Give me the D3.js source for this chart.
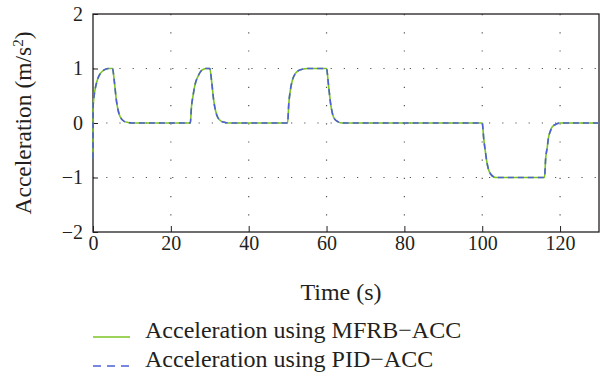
<!DOCTYPE html>
<html>
<head>
<meta charset="utf-8">
<script src="https://cdn.jsdelivr.net/npm/d3@7/dist/d3.min.js"></script>
<style>
  html, body { margin: 0; padding: 0; background: #fff; }
  svg { display: block; }
  text { font-family: "Liberation Serif", "DejaVu Serif", serif; fill: #231f20; }
</style>
</head>
<body>
<svg id="chart" width="600" height="381"></svg>
<script>
// ---- data ----
const time = [0, 0.02, 0.5, 1, 1.5, 2, 3, 4, 5, 5.5, 6, 6.5, 7, 8, 9, 10,
  25, 25.3, 25.7, 26.2, 27, 27.5, 28.5, 29, 30, 30.5, 31, 31.5, 32, 33, 34, 35,
  50, 50.3, 50.7, 51.2, 52, 53, 54, 55, 60, 60.5, 61, 61.5, 62, 63, 64,
  100, 100.4, 100.8, 101.2, 101.6, 102.2, 103, 103.5, 116, 116.3, 116.7, 117, 117.5, 118, 119, 120, 130];
const mfrbAcc = [-0.65, 0.3, 0.6, 0.76, 0.86, 0.92, 0.98, 1, 1, 0.75, 0.42, 0.22, 0.11, 0.03, 0.01, 0,
  0, 0.3, 0.5, 0.7, 0.86, 0.93, 0.99, 1, 1, 0.75, 0.42, 0.22, 0.11, 0.03, 0.01, 0,
  0, 0.35, 0.6, 0.78, 0.91, 0.97, 0.99, 1, 1, 0.7, 0.38, 0.18, 0.08, 0.02, 0,
  0, -0.3, -0.52, -0.72, -0.85, -0.94, -0.99, -1, -1, -0.65, -0.45, -0.28, -0.15, -0.07, -0.02, 0, 0];
const pidAcc = [-0.65, 0.3, 0.6, 0.76, 0.86, 0.92, 0.98, 1, 1, 0.75, 0.42, 0.22, 0.11, 0.03, 0.01, 0,
  0, 0.3, 0.5, 0.7, 0.86, 0.93, 0.99, 1, 1, 0.75, 0.42, 0.22, 0.11, 0.03, 0.01, 0,
  0, 0.35, 0.6, 0.78, 0.91, 0.97, 0.99, 1, 1, 0.7, 0.38, 0.18, 0.08, 0.02, 0,
  0, -0.3, -0.52, -0.72, -0.85, -0.94, -0.99, -1, -1, -0.65, -0.45, -0.28, -0.15, -0.07, -0.02, 0, 0];
const xTicks = [0, 20, 40, 60, 80, 100, 120];
const yTicks = [-2, -1, 0, 1, 2];
const seriesNames = ["Acceleration using MFRB\u2212ACC", "Acceleration using PID\u2212ACC"];

// ---- layout ----
const svg = d3.select("#chart");
const L = 93, T = 14, R = 599, B = 232;
const x = d3.scaleLinear().domain([0, 130]).range([L, R]);
const y = d3.scaleLinear().domain([-2, 2]).range([B, T]);
const ink = "#231f20";
const green = "#7cc520";
const blue = "#4d5fd2";

// grid
const grid = svg.append("g");
grid.selectAll(".gx").data(xTicks.filter(d => d > 0)).enter().append("line")
  .attr("x1", d => x(d)).attr("x2", d => x(d)).attr("y1", T).attr("y2", B)
  .attr("stroke", "#555").attr("stroke-width", 1.2).attr("stroke-dasharray", "1.2,17");
grid.selectAll(".gy").data(yTicks.filter(d => d > -2 && d < 2)).enter().append("line")
  .attr("x1", L).attr("x2", R).attr("y1", d => y(d)).attr("y2", d => y(d))
  .attr("stroke", "#555").attr("stroke-width", 1.2).attr("stroke-dasharray", "1.2,12");

// axes
const xAxis = d3.axisBottom(x).tickValues(xTicks).tickSize(-6).tickPadding(4);
const gx = svg.append("g").attr("transform", `translate(0,${B})`).call(xAxis);
gx.select(".domain").remove();
gx.selectAll("line").attr("stroke", ink);
gx.selectAll("text").style("font-size", "20px").attr("fill", ink);

const yAxis = d3.axisLeft(y).tickValues(yTicks).tickSize(-5).tickPadding(10)
  .tickFormat(d => d < 0 ? "\u2212" + Math.abs(d) : d);
const gy = svg.append("g").attr("transform", `translate(${L},0)`).call(yAxis);
gy.select(".domain").remove();
gy.selectAll("line").attr("stroke", ink);
gy.selectAll("text").style("font-size", "20px").attr("fill", ink);

// frame
svg.append("rect").attr("x", L).attr("y", T).attr("width", R - L).attr("height", B - T)
  .attr("fill", "none").attr("stroke", ink).attr("stroke-width", 1.3);

// lines
const pts = (vals) => time.map((t, i) => [t, vals[i]]);
const line = d3.line().x(d => x(d[0])).y(d => y(d[1])).curve(d3.curveMonotoneX);
svg.append("path").attr("d", line(pts(mfrbAcc))).attr("fill", "none")
  .attr("stroke", green).attr("stroke-width", 1.6);
svg.append("path").attr("d", line(pts(pidAcc))).attr("fill", "none")
  .attr("stroke", blue).attr("stroke-width", 1.6).attr("stroke-dasharray", "6,4");

// axis titles
svg.append("text").attr("x", 341).attr("y", 300).attr("text-anchor", "middle")
  .style("font-size", "24px").text("Time (s)");
const yl = svg.append("text").attr("transform", `translate(31,${(T + B) / 2}) rotate(-90)`)
  .attr("text-anchor", "middle").style("font-size", "23.5px");
yl.append("tspan").text("Acceleration (m/s");
yl.append("tspan").attr("dy", -8).style("font-size", "15px").text("2");
yl.append("tspan").attr("dy", 8).text(")");

// legend
const leg = svg.append("g");
const legY = [337, 366];
leg.selectAll(".ll").data(seriesNames).enter().append("line")
  .attr("x1", 93).attr("x2", 130).attr("y1", (d, i) => legY[i]).attr("y2", (d, i) => legY[i])
  .attr("stroke", (d, i) => i === 0 ? green : blue).attr("stroke-width", 1.6)
  .attr("stroke-dasharray", (d, i) => i === 0 ? null : "8,6");
leg.selectAll(".lt").data(seriesNames).enter().append("text")
  .attr("x", 145).attr("y", (d, i) => legY[i] + 1).style("font-size", "24px").text(d => d);
</script>
</body>
</html>
